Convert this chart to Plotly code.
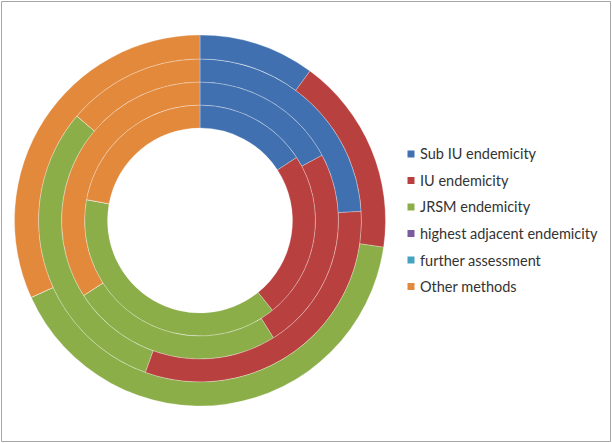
import plotly.graph_objects as go

# ---- data (percent of each ring, read clockwise from 12 o'clock) ----
categories = ["Sub IU endemicity", "IU endemicity", "JRSM endemicity",
              "highest adjacent endemicity", "further assessment", "Other methods"]
ring1_values = [15.8, 23.4, 38.7, 0, 0, 22.1]   # innermost ring
ring2_values = [17.2, 23.9, 24.8, 0, 0, 34.1]
ring3_values = [24.1, 31.4, 30.7, 0, 0, 13.8]
ring4_values = [10.1, 17.2, 40.9, 0, 0, 31.8]   # outermost ring
rings = [ring1_values, ring2_values, ring3_values, ring4_values]

colors = ["#4170B0", "#B8403E", "#8BAE49", "#7A5C9E", "#45A3BF", "#E2893C"]

W, H = 612, 443
cx, cy = 200.0, 220.5
radii = [92.5, 115.5, 138.5, 161.5, 185.5]

fig = go.Figure()
for i, vals in enumerate(rings):
    r_in, r_out = radii[i], radii[i + 1]
    fig.add_trace(go.Pie(
        labels=categories, values=vals, name=f"Series {i+1}",
        sort=False, direction="clockwise", rotation=0,
        hole=r_in / r_out,
        marker=dict(colors=colors, line=dict(color="rgba(255,255,255,0.45)", width=0.6)),
        textinfo="none", hoverinfo="label+value",
        showlegend=False,
        domain=dict(x=[(cx - r_out) / W, (cx + r_out) / W],
                    y=[1 - (cy + r_out) / H, 1 - (cy - r_out) / H]),
    ))

# ---- legend drawn as shapes + text ----
leg_x, leg_y0, leg_dy, sq = 407.5, 154.0, 26.5, 7.0
shapes = [dict(type="rect", xref="paper", yref="paper",
               x0=1.5 / W, x1=(W - 1.5) / W, y0=1.5 / H, y1=(H - 1.5) / H,
               line=dict(color="#A6A6A6", width=1), fillcolor="rgba(0,0,0,0)")]
annotations = []
for k, (cat, col) in enumerate(zip(categories, colors)):
    yc = leg_y0 + k * leg_dy
    shapes.append(dict(type="rect", xref="paper", yref="paper",
                       x0=leg_x / W, x1=(leg_x + sq) / W,
                       y0=1 - (yc + sq / 2) / H, y1=1 - (yc - sq / 2) / H,
                       line=dict(width=0), fillcolor=col))
    annotations.append(dict(text=cat, xref="paper", yref="paper",
                            x=(leg_x + sq + 3) / W, y=1 - yc / H,
                            xanchor="left", yanchor="middle", showarrow=False,
                            font=dict(family="Lato, Carlito, sans-serif", size=14.5, color="#333333")))

fig.update_layout(
    width=W, height=H, margin=dict(l=0, r=0, t=0, b=0),
    paper_bgcolor="white", plot_bgcolor="white",
    shapes=shapes, annotations=annotations,
)
fig.write_html("out.html", config={"displayModeBar": False},
               post_script="document.body.style.margin='0px';")
